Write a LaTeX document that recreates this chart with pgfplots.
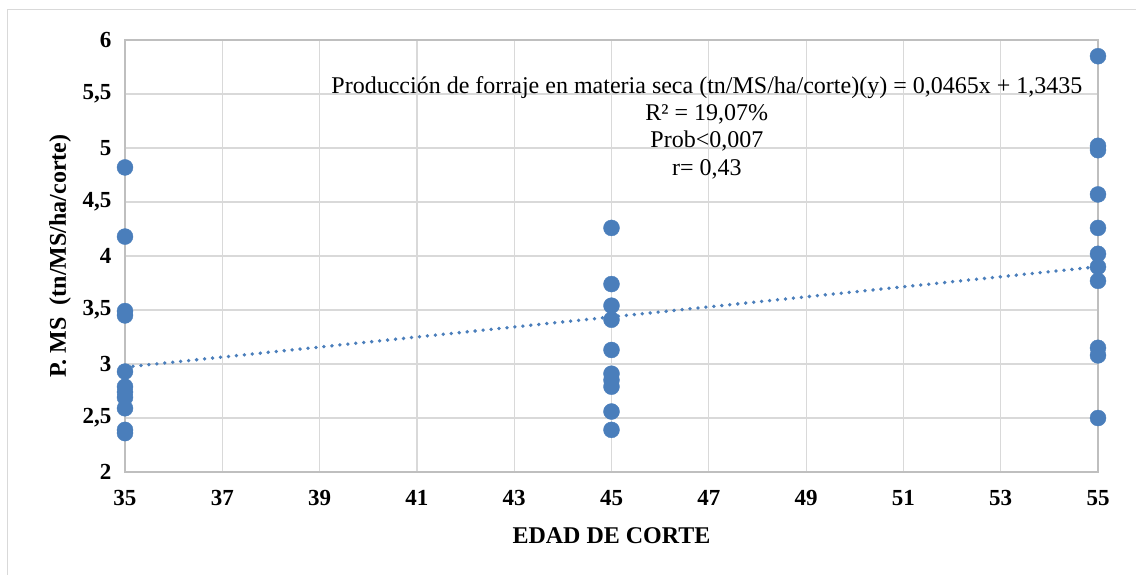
\documentclass[border=0pt]{standalone}
\usepackage{fontspec}
\setmainfont{Liberation Serif}
\usepackage{pgfplots}
\pgfplotsset{compat=1.18}
\definecolor{ptblue}{RGB}{74,126,187}
\definecolor{gridgray}{RGB}{217,217,217}
\definecolor{axisgray}{RGB}{191,191,191}
\begin{document}
\begin{tikzpicture}[x=1pt,y=1pt]
\useasboundingbox (-125,-102) rectangle (1011,472);
\draw[gridgray, line width=1pt] (-117,-120) rectangle (1030,462);
\begin{axis}[at={(0,0)}, anchor=south west, scale only axis,
  width=973pt, height=432pt,
  xmin=35, xmax=55, ymin=2, ymax=6,
  xtick={35,37,39,41,43,45,47,49,51,53,55},
  ytick={2,2.5,3,3.5,4,4.5,5,5.5,6},
  grid=major, major grid style={gridgray, line width=1.2pt},
  axis line style={axisgray, line width=1.2pt},
  tick style={draw=none},
  /pgf/number format/assume math mode=true,
  ticklabel style={font=\fontsize{23}{25}\selectfont\bfseries},
  yticklabel style={/pgf/number format/use comma, /pgf/number format/fixed, xshift=-10pt},
  xticklabel style={yshift=-15pt},
  xlabel={EDAD DE CORTE},
  ylabel={P. MS\ \ (tn/MS/ha/corte)},
  label style={font=\fontsize{24}{26}\selectfont\bfseries},
  xlabel style={at={(axis description cs:0.5,-0.148)}, anchor=center},
  ylabel style={at={(axis description cs:-0.0668,0.5)}, anchor=center},
  clip=false,
]
\addplot[ptblue, only marks, mark=*, mark size=8pt, mark options={fill=ptblue, draw=none}] table {
x y
35 4.82
35 4.18
35 3.49
35 3.45
35 2.93
35 2.79
35 2.74
35 2.69
35 2.59
35 2.39
35 2.36
45 4.26
45 3.74
45 3.54
45 3.41
45 3.13
45 2.91
45 2.85
45 2.79
45 2.56
45 2.39
55 5.85
55 5.02
55 4.98
55 4.57
55 4.26
55 4.02
55 3.90
55 3.77
55 3.15
55 3.08
55 2.50
};
\addplot[ptblue, line width=3.8pt, line cap=round, dash pattern=on 0pt off 8pt] coordinates {(35,2.971) (55,3.901)};
\node[align=center, font=\fontsize{24}{27.3}\selectfont, anchor=center] at (axis cs:46.96,5.19)
  {Producción de forraje en materia seca (tn/MS/ha/corte)(y) = 0,0465x + 1,3435\\
   R² = 19,07\%\\ Prob<0,007\\ r= 0,43};
\end{axis}
\end{tikzpicture}
\end{document}
